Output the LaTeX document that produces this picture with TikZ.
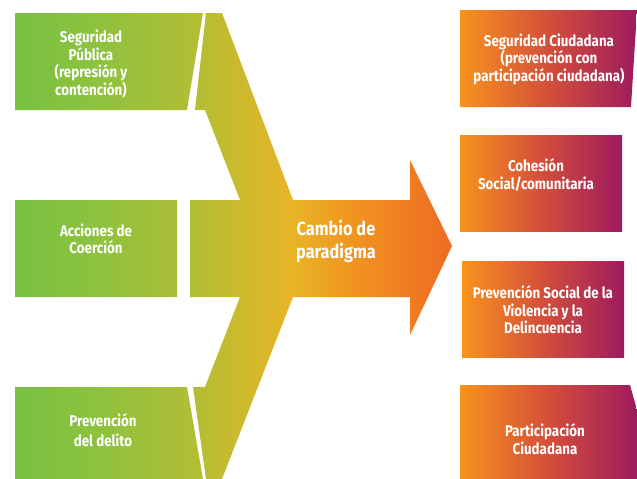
\documentclass[tikz,border=0pt]{standalone}
\usepackage{fontspec}
\setmainfont{Fira Sans}[FakeStretch=0.86]
\usetikzlibrary{positioning}

\definecolor{verde}{HTML}{78C142}
\definecolor{verdecl}{HTML}{8EC23E}
\definecolor{oliva}{HTML}{B0BE35}
\definecolor{oro}{HTML}{E8B526}
\definecolor{naranja}{HTML}{F0961F}
\definecolor{naranjaosc}{HTML}{EE6A23}
\definecolor{naranjacl}{HTML}{F7931D}
\definecolor{rojizo}{HTML}{D44E3A}
\definecolor{morado}{HTML}{9E1B5E}

\pgfdeclarehorizontalshading{flujoverde}{100bp}{color(0bp)=(verde); color(25bp)=(verde);
 color(34.7bp)=(verdecl); color(45bp)=(oliva); color(56.5bp)=(oro);
 color(63.3bp)=(naranja); color(75bp)=(naranjaosc); color(100bp)=(naranjaosc)}
\pgfdeclarehorizontalshading{flujomorado}{100bp}{color(0bp)=(naranjacl); color(25bp)=(naranjacl);
 color(50bp)=(rojizo); color(75bp)=(morado); color(100bp)=(morado)}

\begin{document}
\begin{tikzpicture}[x=1pt,y=-1pt,
 txt/.style={text=white,align=center,inner sep=0pt,font=\fontsize{15.5}{17.5}\selectfont\bfseries},
 caja/.style={shading=flujomorado}]
\useasboundingbox (0,0) rectangle (637,479);
% cajas de la izquierda y flecha, con un solo degradado
\shade[shading=flujoverde]
 (15,13) -- (203,13) -- (187,110) -- (15,110) -- cycle
 (15,200) -- (177,200) -- (177,297) -- (15,297) -- cycle
 (15,387) -- (187,387) -- (203,479) -- (15,479) -- cycle
 (206,13) -- (222,13) -- (293,200) -- (410,200) -- (410,160) -- (452,246)
 -- (410,335) -- (410,297) -- (293,297) -- (222,479) -- (206,479) -- (193,387)
 -- (205,387) -- (240,297) -- (190,297) -- (190,200) -- (240,200) -- (205,110)
 -- (195,110) -- cycle;
% cajas de la derecha
\shade[caja] (460,10) -- (637,10) -- (631,107) -- (460,107) -- cycle;
\shade[caja] (460,135) rectangle (622,231);
\shade[caja] (462,261) rectangle (624,357);
\shade[caja] (460,385) -- (630,385) -- (637,410) -- (637,479) -- (460,479) -- cycle;
% textos
\node[txt] (secpub) at (91,64) {Seguridad\\Pública\\(represión y\\contención)};
\node[txt] (coerc) at (96,239) {Acciones de\\Coerción};
\node[txt,font=\fontsize{15.5}{20}\selectfont\bfseries] (prevdel) at (103,430) {Prevención\\del delito};
\node[txt,font=\fontsize{19}{23}\selectfont\bfseries] (cambio) at (336,241) {Cambio de\\paradigma};
\node[txt] (segciu) at (549,59) {Seguridad Ciudadana\\(prevención con\\participación ciudadana)};
\node[txt] (cohes) at (536,175) {Cohesión\\Social/comunitaria};
\node[txt] (prevsoc) at (543,310) {Prevención Social de la\\Violencia y la\\Delincuencia};
\node[txt] (partic) at (545,439) {Participación\\Ciudadana};
\end{tikzpicture}
\end{document}
